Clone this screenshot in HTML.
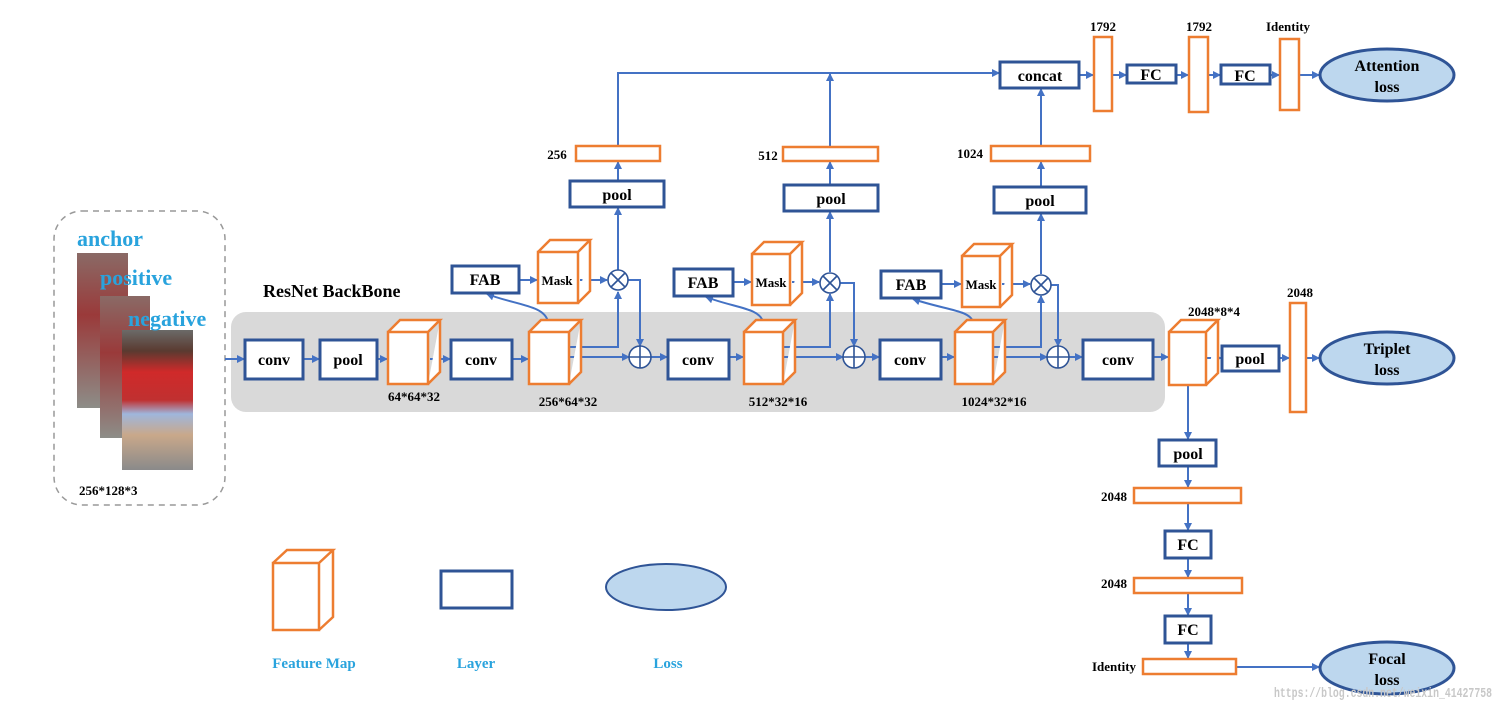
<!DOCTYPE html>
<html><head><meta charset="utf-8"><style>
html,body{margin:0;padding:0;background:#fff;}
svg{display:block;}
text{font-family:"Liberation Serif",serif;font-weight:bold;}
</style></head><body>
<svg width="1504" height="712" viewBox="0 0 1504 712" xmlns="http://www.w3.org/2000/svg">
<defs>
<marker id="a" markerWidth="8" markerHeight="8" refX="7" refY="4" orient="auto" markerUnits="userSpaceOnUse"><path d="M0,0 L8,4 L0,8z" fill="#4472c4"/></marker>
<linearGradient id="p1" x1="0" y1="0" x2="0" y2="1"><stop offset="0" stop-color="#8a6a66"/><stop offset="0.4" stop-color="#9a3a3a"/><stop offset="1" stop-color="#8d8d88"/></linearGradient>
<linearGradient id="p3" x1="0" y1="0" x2="0" y2="1"><stop offset="0" stop-color="#6b6a68"/><stop offset="0.15" stop-color="#5a3a30"/><stop offset="0.3" stop-color="#d02a2a"/><stop offset="0.5" stop-color="#c03030"/><stop offset="0.6" stop-color="#9fb6dc"/><stop offset="0.75" stop-color="#c9a88a"/><stop offset="1" stop-color="#8a8a8a"/></linearGradient>
</defs>
<rect x="54" y="211" width="171" height="294" rx="28" fill="none" stroke="#999" stroke-width="1.5" stroke-dasharray="6,5"/>
<rect x="77" y="253" width="51" height="155" fill="url(#p1)"/>
<rect x="100" y="296" width="50" height="142" fill="url(#p1)"/>
<rect x="122" y="330" width="71" height="140" fill="url(#p3)"/>
<text x="77" y="246" font-size="22" fill="#29a3dd">anchor</text>
<text x="100" y="285" font-size="22" fill="#29a3dd">positive</text>
<text x="128" y="326" font-size="22" fill="#29a3dd">negative</text>
<text x="79" y="495" font-size="13" fill="#000">256*128*3</text>

<rect x="231" y="312" width="934" height="100" rx="15" fill="#d9d9d9"/>
<text x="263" y="297" font-size="18" fill="#000">ResNet BackBone</text>

<g stroke="#4472c4" stroke-width="2" fill="none">
<line x1="225" y1="359" x2="244" y2="359" marker-end="url(#a)"/>
<line x1="303" y1="359" x2="319" y2="359" marker-end="url(#a)"/>
<line x1="377" y1="359" x2="387" y2="359" marker-end="url(#a)"/>
<line x1="430" y1="359" x2="450" y2="359" marker-end="url(#a)"/>
<line x1="512" y1="359" x2="528" y2="359" marker-end="url(#a)"/>
<path d="M569,347 H618 V292" marker-end="url(#a)"/>
<line x1="569" y1="357" x2="629" y2="357" marker-end="url(#a)"/>
<path d="M548,322 C545,305 515,305 487,294" marker-end="url(#a)"/>
<line x1="519" y1="280" x2="537" y2="280" marker-end="url(#a)"/>
<line x1="580" y1="280" x2="607" y2="280" marker-end="url(#a)"/>
<path d="M628,280 H640 V346" marker-end="url(#a)"/>
<line x1="618" y1="270" x2="618" y2="208" marker-end="url(#a)"/>
<line x1="618" y1="181" x2="618" y2="162" marker-end="url(#a)"/>
<path d="M618,146 V73 H999" marker-end="url(#a)"/>
<line x1="651" y1="357" x2="667" y2="357" marker-end="url(#a)"/>
<line x1="729" y1="357" x2="743" y2="357" marker-end="url(#a)"/>
<path d="M783,347 H830 V294" marker-end="url(#a)"/>
<line x1="783" y1="357" x2="843" y2="357" marker-end="url(#a)"/>
<path d="M763,322 C760,308 735,308 706,297" marker-end="url(#a)"/>
<line x1="733" y1="282" x2="751" y2="282" marker-end="url(#a)"/>
<line x1="792" y1="282" x2="819" y2="282" marker-end="url(#a)"/>
<path d="M840,283 H854 V346" marker-end="url(#a)"/>
<line x1="830" y1="272" x2="830" y2="212" marker-end="url(#a)"/>
<line x1="830" y1="185" x2="830" y2="162" marker-end="url(#a)"/>
<line x1="830" y1="147" x2="830" y2="74" marker-end="url(#a)"/>
<line x1="865" y1="357" x2="879" y2="357" marker-end="url(#a)"/>
<line x1="941" y1="357" x2="954" y2="357" marker-end="url(#a)"/>
<path d="M993,347 H1041 V296" marker-end="url(#a)"/>
<line x1="993" y1="357" x2="1047" y2="357" marker-end="url(#a)"/>
<path d="M973,322 C970,310 945,310 913,299" marker-end="url(#a)"/>
<line x1="941" y1="284" x2="961" y2="284" marker-end="url(#a)"/>
<line x1="1002" y1="284" x2="1030" y2="284" marker-end="url(#a)"/>
<path d="M1051,285 H1058 V346" marker-end="url(#a)"/>
<line x1="1041" y1="274" x2="1041" y2="214" marker-end="url(#a)"/>
<line x1="1041" y1="187" x2="1041" y2="162" marker-end="url(#a)"/>
<line x1="1041" y1="146" x2="1041" y2="89" marker-end="url(#a)"/>
<line x1="1069" y1="357" x2="1082" y2="357" marker-end="url(#a)"/>
<line x1="1153" y1="357" x2="1168" y2="357" marker-end="url(#a)"/>
<line x1="1207" y1="358" x2="1221" y2="358" marker-end="url(#a)"/>
<line x1="1279" y1="358" x2="1289" y2="358" marker-end="url(#a)"/>
<line x1="1306" y1="358" x2="1319" y2="358" marker-end="url(#a)"/>
<line x1="1079" y1="75" x2="1093" y2="75" marker-end="url(#a)"/>
<line x1="1112" y1="75" x2="1126" y2="75" marker-end="url(#a)"/>
<line x1="1176" y1="75" x2="1188" y2="75" marker-end="url(#a)"/>
<line x1="1208" y1="75" x2="1220" y2="75" marker-end="url(#a)"/>
<line x1="1270" y1="75" x2="1279" y2="75" marker-end="url(#a)"/>
<line x1="1299" y1="75" x2="1319" y2="75" marker-end="url(#a)"/>
<line x1="1188" y1="385" x2="1188" y2="439" marker-end="url(#a)"/>
<line x1="1188" y1="466" x2="1188" y2="487" marker-end="url(#a)"/>
<line x1="1188" y1="503" x2="1188" y2="530" marker-end="url(#a)"/>
<line x1="1188" y1="558" x2="1188" y2="577" marker-end="url(#a)"/>
<line x1="1188" y1="593" x2="1188" y2="615" marker-end="url(#a)"/>
<line x1="1188" y1="643" x2="1188" y2="658" marker-end="url(#a)"/>
<line x1="1236" y1="667" x2="1319" y2="667" marker-end="url(#a)"/>
</g>

<g stroke="#2f5496" stroke-width="3" fill="#fff">
<rect x="245" y="340" width="58" height="39"/>
<rect x="320" y="340" width="57" height="39"/>
<rect x="451" y="340" width="61" height="39"/>
<rect x="668" y="340" width="61" height="39"/>
<rect x="880" y="340" width="61" height="39"/>
<rect x="1083" y="340" width="70" height="39"/>
<rect x="452" y="266" width="67" height="27"/>
<rect x="674" y="269" width="59" height="27"/>
<rect x="881" y="271" width="60" height="27"/>
<rect x="570" y="181" width="94" height="26"/>
<rect x="784" y="185" width="94" height="26"/>
<rect x="994" y="187" width="92" height="26"/>
<rect x="1000" y="62" width="79" height="26"/>
<rect x="1127" y="65" width="49" height="18"/>
<rect x="1221" y="65" width="49" height="19"/>
<rect x="1222" y="346" width="57" height="25"/>
<rect x="1159" y="440" width="57" height="26"/>
<rect x="1165" y="531" width="46" height="27"/>
<rect x="1165" y="616" width="46" height="27"/>
<rect x="441" y="571" width="71" height="37"/>
</g>

<g stroke="#ed7d31" stroke-width="2.5" fill="#fff">
<path d="M388,332 h40 v52 h-40z M388,332 l12,-12 h40 l-12,12 M428,384 l12,-12 v-52"/>
<path d="M529,332 h40 v52 h-40z M529,332 l12,-12 h40 l-12,12 M569,384 l12,-12 v-52"/>
<path d="M744,332 h39 v52 h-39z M744,332 l12,-12 h39 l-12,12 M783,384 l12,-12 v-52"/>
<path d="M955,332 h38 v52 h-38z M955,332 l12,-12 h38 l-12,12 M993,384 l12,-12 v-52"/>
<path d="M1169,332 h37 v53 h-37z M1169,332 l12,-12 h37 l-12,12 M1206,385 l12,-12 v-53"/>
<path d="M538,252 h40 v51 h-40z M538,252 l12,-12 h40 l-12,12 M578,303 l12,-12 v-51"/>
<path d="M752,254 h38 v51 h-38z M752,254 l12,-12 h38 l-12,12 M790,305 l12,-12 v-51"/>
<path d="M962,256 h38 v51 h-38z M962,256 l12,-12 h38 l-12,12 M1000,307 l12,-12 v-51"/>
<path d="M273,563 h46 v67 h-46z M273,563 l14,-13 h46 l-14,13 M319,630 l14,-13 v-67"/>
<rect x="576" y="146" width="84" height="15"/>
<rect x="783" y="147" width="95" height="14"/>
<rect x="991" y="146" width="99" height="15"/>
<rect x="1094" y="37" width="18" height="74"/>
<rect x="1189" y="37" width="19" height="75"/>
<rect x="1280" y="39" width="19" height="71"/>
<rect x="1290" y="303" width="16" height="109"/>
<rect x="1134" y="488" width="107" height="15"/>
<rect x="1134" y="578" width="108" height="15"/>
<rect x="1143" y="659" width="93" height="15"/>
</g>

<g stroke="#2f5496" stroke-width="1.6" fill="#fff">
<circle cx="618" cy="280" r="10"/><path d="M611,273 l14,14 M625,273 l-14,14"/>
<circle cx="830" cy="283" r="10"/><path d="M823,276 l14,14 M837,276 l-14,14"/>
<circle cx="1041" cy="285" r="10"/><path d="M1034,278 l14,14 M1048,278 l-14,14"/>
<circle cx="640" cy="357" r="11"/><path d="M629,357 h22 M640,346 v22"/>
<circle cx="854" cy="357" r="11"/><path d="M843,357 h22 M854,346 v22"/>
<circle cx="1058" cy="357" r="11"/><path d="M1047,357 h22 M1058,346 v22"/>
</g>

<g stroke="#2f5496" stroke-width="3" fill="#bdd7ee">
<ellipse cx="1387" cy="75" rx="67" ry="26"/>
<ellipse cx="1387" cy="358" rx="67" ry="26"/>
<ellipse cx="1387" cy="668" rx="67" ry="26"/>
</g>
<ellipse cx="666" cy="587" rx="60" ry="23" fill="#bdd7ee" stroke="#2f5496" stroke-width="2"/>

<g font-size="16" fill="#000" text-anchor="middle">
<text x="274" y="365">conv</text>
<text x="348" y="365">pool</text>
<text x="481" y="365">conv</text>
<text x="698" y="365">conv</text>
<text x="910" y="365">conv</text>
<text x="1118" y="365">conv</text>
<text x="485" y="285">FAB</text>
<text x="703" y="288">FAB</text>
<text x="911" y="290">FAB</text>
<text x="617" y="200">pool</text>
<text x="831" y="204">pool</text>
<text x="1040" y="206">pool</text>
<text x="1040" y="81">concat</text>
<text x="1151" y="80">FC</text>
<text x="1245" y="81">FC</text>
<text x="1250" y="364">pool</text>
<text x="1188" y="459">pool</text>
<text x="1188" y="550">FC</text>
<text x="1188" y="635">FC</text>
<text x="1387" y="71">Attention</text><text x="1387" y="92">loss</text>
<text x="1387" y="354">Triplet</text><text x="1387" y="375">loss</text>
<text x="1387" y="664">Focal</text><text x="1387" y="685">loss</text>
</g>
<g font-size="13" fill="#000" text-anchor="middle">
<text x="557" y="285" font-weight="normal">Mask</text>
<text x="771" y="287" font-weight="normal">Mask</text>
<text x="981" y="289" font-weight="normal">Mask</text>
<text x="414" y="401">64*64*32</text>
<text x="568" y="406">256*64*32</text>
<text x="778" y="406">512*32*16</text>
<text x="994" y="406">1024*32*16</text>
<text x="1214" y="316">2048*8*4</text>
<text x="1300" y="297">2048</text>
<text x="1103" y="31">1792</text>
<text x="1199" y="31">1792</text>
<text x="1288" y="31">Identity</text>
<text x="557" y="159">256</text>
<text x="768" y="160">512</text>
<text x="970" y="158">1024</text>
<text x="1114" y="501">2048</text>
<text x="1114" y="588">2048</text>
<text x="1114" y="671">Identity</text>
</g>
<g font-size="15" fill="#29a3dd" text-anchor="middle">
<text x="314" y="668">Feature Map</text>
<text x="476" y="668">Layer</text>
<text x="668" y="668">Loss</text>
</g>
<text x="1274" y="697" font-size="14" font-weight="normal" fill="#c8c8c8" textLength="218" lengthAdjust="spacingAndGlyphs" style="font-family:'Liberation Mono',monospace">https://blog.csdn.net/weixin_41427758</text>
</svg>
</body></html>
